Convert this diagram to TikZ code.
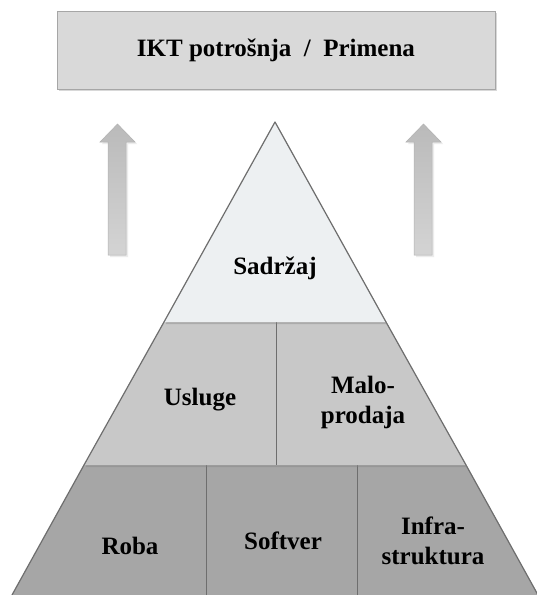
\documentclass[tikz,border=0pt]{standalone}
\usepackage{fontspec}
\setmainfont{Liberation Serif}
\usetikzlibrary{shadows}
\definecolor{boxgray}{HTML}{D9D9D9}
\definecolor{topgray}{HTML}{EDF0F2}
\definecolor{midgray}{HTML}{C8C8C8}
\definecolor{lowgray}{HTML}{A6A6A6}
\definecolor{edgegray}{HTML}{6E6E6E}
\tikzset{
  tier/.style={draw=none,
    drop shadow={shadow xshift=1.5pt, shadow yshift=-2pt, opacity=.4}},
  side/.style={draw=edgegray, line width=1.2pt, line join=round},
  label/.style={font=\bfseries\fontsize{25}{30}\selectfont, align=center},
  uparrow/.style={top color=black!27, bottom color=black!17, draw=black!30, line width=.5pt,
    drop shadow={shadow xshift=2pt, shadow yshift=-2pt, opacity=.15}}
}
\begin{document}
\begin{tikzpicture}[x=1pt,y=-1pt]
   \useasboundingbox (0,0) rectangle (537,595);
   \fill[white] (0,0) rectangle (537,595);
   \node[draw=black!35, fill=boxgray, line width=1pt, minimum width=438pt, minimum height=78pt,
     drop shadow={shadow xshift=1.5pt, shadow yshift=-2pt, opacity=.3}, label] (potrosnja)
     at (276,50) {IKT potrošnja \ / \ Primena};
   \path[uparrow] (108,255) -- (108,142) -- (100,142) -- (117.5,124) -- (135,142)
     -- (126,142) -- (126,255) -- cycle;
   \path[uparrow] (414,255) -- (414,142) -- (406,142) -- (423.5,124) -- (441,142)
     -- (432,142) -- (432,255) -- cycle;
   \path[tier, fill=lowgray] (84,465) -- (466,465) -- (538,595) -- (12,595) -- cycle;
   \draw[side] (84,465) -- (12,595) (466,465) -- (538,595);
   \draw[edgegray, line width=1pt] (206,465) -- (206,595) (357,465) -- (357,595);
   \path[tier, fill=midgray] (164,322) -- (386,322) -- (466,465) -- (84,465) -- cycle;
   \draw[side] (164,322) -- (84,465) (386,322) -- (466,465);
   \draw[edgegray, line width=1pt] (276,322) -- (276,465);
   \path[tier, fill=topgray] (275,122) -- (386,322) -- (164,322) -- cycle;
   \draw[side] (164,322) -- (275,122) -- (386,322);
   \node[label] (sadrzaj) at (275,268) {Sadržaj};
   \node[label] (usluge) at (200,400) {Usluge};
   \node[label] (maloprodaja) at (363,402) {Malo-\\prodaja};
   \node[label] (roba) at (130,546) {Roba};
   \node[label] (softver) at (283,541) {Softver};
   \node[label] (infrastruktura) at (433,541) {Infra-\\struktura};
\end{tikzpicture}
\end{document}
